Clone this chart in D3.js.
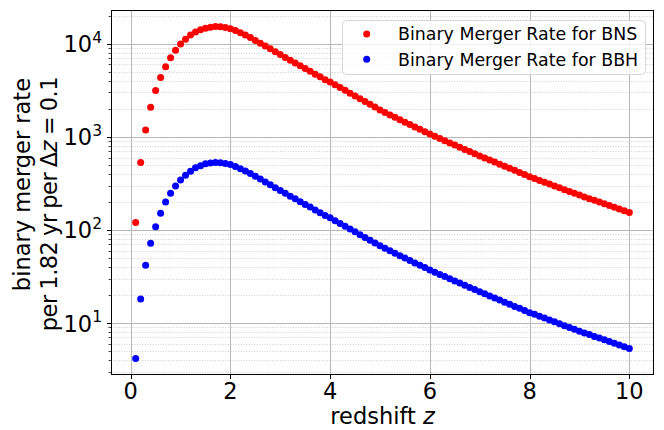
<!DOCTYPE html>
<html>
<head>
<meta charset="utf-8">
<script src="https://cdn.jsdelivr.net/npm/d3@7"></script>
<style>
  html, body { margin: 0; padding: 0; background: #fff; }
  svg { display: block; font-family: "DejaVu Sans", sans-serif; }
</style>
</head>
<body>
<div id="chart"></div>
<script>
// redshift bins, dz = 0.1
var redshift = [0.1,0.2,0.3,0.4,0.5,0.6,0.7,0.8,0.9,1.0,
	1.1,1.2,1.3,1.4,1.5,1.6,1.7,1.8,1.9,2.0,
	2.1,2.2,2.3,2.4,2.5,2.6,2.7,2.8,2.9,3.0,
	3.1,3.2,3.3,3.4,3.5,3.6,3.7,3.8,3.9,4.0,
	4.1,4.2,4.3,4.4,4.5,4.6,4.7,4.8,4.9,5.0,
	5.1,5.2,5.3,5.4,5.5,5.6,5.7,5.8,5.9,6.0,
	6.1,6.2,6.3,6.4,6.5,6.6,6.7,6.8,6.9,7.0,
	7.1,7.2,7.3,7.4,7.5,7.6,7.7,7.8,7.9,8.0,
	8.1,8.2,8.3,8.4,8.5,8.6,8.7,8.8,8.9,9.0,
	9.1,9.2,9.3,9.4,9.5,9.6,9.7,9.8,9.9,10.0];

// binary neutron star merger rate
var rateBNS = [120,530,1189,2084,3148,4345,5662,7063,8551,9954,
	11220,12417,13366,14125,14723,15101,15311,15276,14997,14555,
	13900,13183,12445,11695,10839,10139,9462,8831,8222,7656,
	7145,6668,6223,5808,5420,5058,4721,4416,4121,3890,
	3631,3388,3162,2951,2754,2570,2399,2239,2089,1950,
	1832,1722,1622,1528,1439,1355,1276,1205,1135,1072,
	1014,959,910,861,817,774,733,695,659,625,
	594,564,536,509,483,459,437,415,394,374,
	357,341,326,311,297,284,271,259,248,237,
	226,217,208,200,191,183,175,168,161,154];

// binary black hole merger rate
var rateBBH = [4.17,18.1,41.7,71.9,108.6,151,200,248,297,345,
	387,428,465,491,513,525,530,528,519,504,
	481,456,431,405,377,352,328,306,285,265,
	248,231,216,201,188,176,164,153,143,135,
	126,117.5,109.6,102.3,95.5,89.1,83.2,77.6,72.4,67.6,
	63.5,59.7,56.2,53.0,49.9,47.0,44.3,41.8,39.4,37.2,
	35.2,33.3,31.6,29.9,28.3,26.9,25.4,24.1,22.9,21.7,
	20.6,19.5,18.6,17.7,16.7,15.9,15.1,14.4,13.6,12.9,
	12.4,11.8,11.3,10.8,10.3,9.82,9.38,8.97,8.57,8.18,
	7.83,7.52,7.19,6.90,6.61,6.32,6.07,5.81,5.57,5.33];

var xTicks = [0,2,4,6,8,10];
var seriesNames = ["Binary Merger Rate for BNS","Binary Merger Rate for BBH"];
var seriesColors = ["#ff0000","#0000ff"];

var W = 664, H = 430;
var plot = { left: 111, right: 654, top: 10, bottom: 375 };
var fontSize = 22.5;

var svg = d3.select("#chart").append("svg")
	.attr("width", W).attr("height", H);

// x scale with matplotlib-like 5% margins
var xMin = d3.min(redshift), xMax = d3.max(redshift);
var xPad = (xMax - xMin) * 0.05;
var xScale = d3.scaleLinear()
	.domain([xMin - xPad, xMax + xPad])
	.range([plot.left, plot.right]);

// log y scale, margins in log space
var allRates = rateBNS.concat(rateBBH);
var lMin = Math.log10(d3.min(allRates)), lMax = Math.log10(d3.max(allRates));
var lPad = (lMax - lMin) * 0.05;
var yScale = d3.scaleLog()
	.domain([Math.pow(10, lMin - lPad), Math.pow(10, lMax + lPad)])
	.range([plot.bottom, plot.top]);

var yMajor = [1e1,1e2,1e3,1e4];
var yMinor = [];
for (var k = 0; k <= 4; k++) {
	for (var m = 2; m <= 9; m++) {
		var v = m * Math.pow(10, k);
		if (v > yScale.domain()[0] && v < yScale.domain()[1]) yMinor.push(v);
	}
}

var grid = svg.append("g");

// minor y grid (dotted)
grid.selectAll("line.minor").data(yMinor).enter().append("line")
	.attr("class", "minor")
	.attr("x1", plot.left).attr("x2", plot.right)
	.attr("y1", function(d){ return Math.round(yScale(d)) + 0.5; })
	.attr("y2", function(d){ return Math.round(yScale(d)) + 0.5; })
	.attr("stroke", "#c4c4c4").attr("stroke-width", 0.8)
	.attr("stroke-dasharray", "1,1.6");

// major grid
grid.selectAll("line.ymaj").data(yMajor).enter().append("line")
	.attr("class", "ymaj")
	.attr("x1", plot.left).attr("x2", plot.right)
	.attr("y1", function(d){ return Math.round(yScale(d)) + 0.5; })
	.attr("y2", function(d){ return Math.round(yScale(d)) + 0.5; })
	.attr("stroke", "#b8b8b8").attr("stroke-width", 1);

grid.selectAll("line.xmaj").data(xTicks).enter().append("line")
	.attr("class", "xmaj")
	.attr("y1", plot.top).attr("y2", plot.bottom)
	.attr("x1", function(d){ return Math.round(xScale(d)) + 0.5; })
	.attr("x2", function(d){ return Math.round(xScale(d)) + 0.5; })
	.attr("stroke", "#b8b8b8").attr("stroke-width", 1);

// points
var pts = svg.append("g");
[rateBNS, rateBBH].forEach(function(series, s){
	pts.selectAll("circle.s" + s).data(series).enter().append("circle")
		.attr("class", "s" + s)
		.attr("cx", function(d, i){ return xScale(redshift[i]); })
		.attr("cy", function(d){ return yScale(d); })
		.attr("r", 3.5)
		.attr("fill", seriesColors[s]);
});

// frame
svg.append("rect")
	.attr("x", plot.left + 0.5).attr("y", plot.top + 0.5)
	.attr("width", plot.right - plot.left - 1).attr("height", plot.bottom - plot.top - 1)
	.attr("fill", "none").attr("stroke", "#000").attr("stroke-width", 1);

// x ticks + labels
var xAx = svg.append("g");
xAx.selectAll("line").data(xTicks).enter().append("line")
	.attr("x1", function(d){ return Math.round(xScale(d)) + 0.5; })
	.attr("x2", function(d){ return Math.round(xScale(d)) + 0.5; })
	.attr("y1", plot.bottom).attr("y2", plot.bottom + 4)
	.attr("stroke", "#000");
xAx.selectAll("text").data(xTicks).enter().append("text")
	.attr("x", function(d){ return xScale(d); })
	.attr("y", 399)
	.attr("text-anchor", "middle")
	.attr("font-size", fontSize)
	.text(function(d){ return d; });

// y ticks + labels
var yAx = svg.append("g");
yAx.selectAll("line.maj").data(yMajor).enter().append("line")
	.attr("class", "maj")
	.attr("x1", plot.left - 4).attr("x2", plot.left)
	.attr("y1", function(d){ return Math.round(yScale(d)) + 0.5; })
	.attr("y2", function(d){ return Math.round(yScale(d)) + 0.5; })
	.attr("stroke", "#000");
yAx.selectAll("line.min").data(yMinor).enter().append("line")
	.attr("class", "min")
	.attr("x1", plot.left - 2.5).attr("x2", plot.left)
	.attr("y1", function(d){ return Math.round(yScale(d)) + 0.5; })
	.attr("y2", function(d){ return Math.round(yScale(d)) + 0.5; })
	.attr("stroke", "#000").attr("stroke-width", 0.7);
var yl = yAx.selectAll("text").data(yMajor).enter().append("text")
	.attr("x", 102)
	.attr("y", function(d){ return yScale(d) + 8.5; })
	.attr("text-anchor", "end")
	.attr("font-size", fontSize);
yl.append("tspan").text("10");
yl.append("tspan").attr("dy", -9.5).attr("font-size", 15.5)
	.text(function(d){ return Math.round(Math.log10(d)); });

// axis labels
var xl = svg.append("text")
	.attr("x", (plot.left + plot.right) / 2).attr("y", 424)
	.attr("text-anchor", "middle").attr("font-size", fontSize);
xl.append("tspan").text("redshift ");
xl.append("tspan").attr("font-style", "italic").text("z");

var ylab = svg.append("g");
ylab.append("text")
	.attr("transform", "translate(30,78) rotate(-90)")
	.attr("text-anchor", "end").attr("font-size", fontSize)
	.text("binary merger rate");
var yl2 = ylab.append("text")
	.attr("transform", "translate(57,77) rotate(-90)")
	.attr("text-anchor", "end").attr("font-size", fontSize)
	.attr("word-spacing", -1).attr("letter-spacing", -0.5);
yl2.append("tspan").text("per 1.82 yr per Δ");
yl2.append("tspan").attr("font-style", "italic").text("z");
yl2.append("tspan").text(" = 0.1");

// legend
var leg = svg.append("g");
leg.append("rect")
	.attr("x", 342.5).attr("y", 20.5).attr("width", 303).attr("height", 54)
	.attr("rx", 4).attr("ry", 4)
	.attr("fill", "#fff").attr("fill-opacity", 0.8)
	.attr("stroke", "#d6d6d6").attr("stroke-width", 1);
seriesNames.forEach(function(name, i){
	var cy = 34 + i * 25.3;
	leg.append("circle").attr("cx", 366.7).attr("cy", cy).attr("r", 3.5)
		.attr("fill", seriesColors[i]);
	leg.append("text").attr("x", 398).attr("y", cy + 6.3)
		.attr("font-size", 17.4).text(name);
});
</script>
</body>
</html>
